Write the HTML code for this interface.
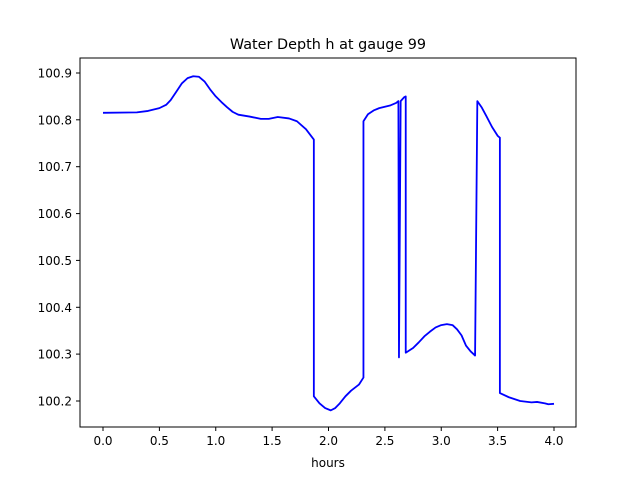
<!DOCTYPE html>
<html><head><meta charset="utf-8"><style>
html,body{margin:0;padding:0;background:#fff;}
svg text{font-family:"DejaVu Sans","Liberation Sans",sans-serif;fill:#000;}
</style></head><body>
<svg width="640" height="480" viewBox="0 0 640 480" xmlns="http://www.w3.org/2000/svg">
<rect width="640" height="480" fill="#fff"/>
<g transform="translate(103,401) scale(112.75,-468.6) translate(0,-100.2)">
<polyline fill="none" stroke="#0000ff" stroke-width="1.8" vector-effect="non-scaling-stroke" stroke-linejoin="round" points="0,100.815 0.3,100.816 0.4,100.819 0.5,100.825 0.56,100.832 0.6,100.842 0.65,100.86 0.7,100.878 0.75,100.889 0.8,100.893 0.85,100.892 0.9,100.882 0.95,100.865 1.0,100.85 1.05,100.838 1.1,100.827 1.15,100.817 1.2,100.811 1.3,100.807 1.4,100.802 1.47,100.802 1.55,100.806 1.65,100.803 1.72,100.797 1.8,100.78 1.87,100.758 1.87,100.21 1.92,100.195 1.97,100.185 2.02,100.18 2.06,100.185 2.1,100.195 2.15,100.21 2.2,100.222 2.27,100.235 2.31,100.25 2.31,100.797 2.35,100.812 2.4,100.82 2.45,100.825 2.55,100.831 2.6,100.836 2.62,100.84 2.625,100.293 2.64,100.84 2.67,100.848 2.685,100.85 2.685,100.303 2.75,100.313 2.8,100.325 2.85,100.338 2.9,100.348 2.95,100.357 3.0,100.362 3.05,100.364 3.1,100.362 3.14,100.353 3.18,100.34 3.22,100.318 3.26,100.306 3.3,100.297 3.32,100.84 3.36,100.826 3.4,100.808 3.45,100.785 3.5,100.766 3.52,100.762 3.52,100.217 3.6,100.208 3.7,100.2 3.8,100.197 3.85,100.198 3.92,100.195 3.95,100.193 4.0,100.194"/>
</g>
<rect x="80" y="58" width="496" height="369" fill="none" stroke="#000" stroke-width="1"/>
<g stroke="#000" stroke-width="1">
<line x1="103" y1="427" x2="103" y2="431"/><line x1="159.4" y1="427" x2="159.4" y2="431"/><line x1="215.75" y1="427" x2="215.75" y2="431"/><line x1="272.1" y1="427" x2="272.1" y2="431"/><line x1="328.5" y1="427" x2="328.5" y2="431"/><line x1="384.9" y1="427" x2="384.9" y2="431"/><line x1="441.25" y1="427" x2="441.25" y2="431"/><line x1="497.6" y1="427" x2="497.6" y2="431"/><line x1="554" y1="427" x2="554" y2="431"/>
<line x1="76" y1="401" x2="80" y2="401"/><line x1="76" y1="354.1" x2="80" y2="354.1"/><line x1="76" y1="307.3" x2="80" y2="307.3"/><line x1="76" y1="260.4" x2="80" y2="260.4"/><line x1="76" y1="213.6" x2="80" y2="213.6"/><line x1="76" y1="166.7" x2="80" y2="166.7"/><line x1="76" y1="119.8" x2="80" y2="119.8"/><line x1="76" y1="73" x2="80" y2="73"/>
</g>
<g font-size="12" text-anchor="middle">
<text x="103" y="445">0.0</text><text x="159.4" y="445">0.5</text><text x="215.75" y="445">1.0</text><text x="272.1" y="445">1.5</text><text x="328.5" y="445">2.0</text><text x="384.9" y="445">2.5</text><text x="441.25" y="445">3.0</text><text x="497.6" y="445">3.5</text><text x="554" y="445">4.0</text>
<text x="328" y="467">hours</text>
</g>
<g font-size="12" text-anchor="end">
<text x="72" y="405.5">100.2</text><text x="72" y="358.6">100.3</text><text x="72" y="311.8">100.4</text><text x="72" y="264.9">100.5</text><text x="72" y="218.1">100.6</text><text x="72" y="171.2">100.7</text><text x="72" y="124.3">100.8</text><text x="72" y="77.5">100.9</text>
</g>
<text x="328" y="49" font-size="14.4" text-anchor="middle">Water Depth h at gauge 99</text>
</svg>
</body></html>
